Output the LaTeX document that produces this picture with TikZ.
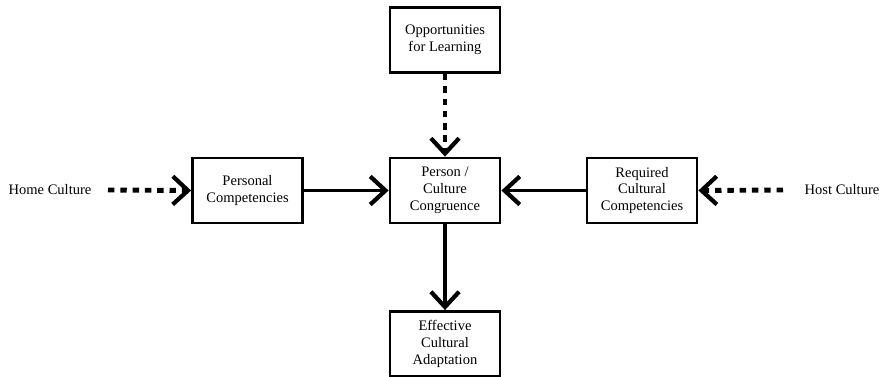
\documentclass[tikz,border=0pt]{standalone}
\usepackage{fontspec}
\setmainfont{Liberation Serif}
\usetikzlibrary{arrows.meta}

\tikzset{
  box/.style={draw, line width=2.4pt, minimum width=3.3cm, minimum height=1.95cm,
    align=center, font=\fontsize{12.4}{14.5}\selectfont, inner sep=2pt},
  lbl/.style={font=\fontsize{12.4}{14.5}\selectfont},
  solidarr/.style={line width=3.4pt, -{Straight Barb[length=13pt,width=24pt,line width=3.6pt]}},
  dotarr/.style={line width=4.2pt, dash pattern=on 5.5pt off 5pt,
    -{Straight Barb[length=13pt,width=24pt,line width=3.6pt]}}
}

\begin{document}
\begin{tikzpicture}[x=0.03cm,y=-0.03cm]
\useasboundingbox (0,0) rectangle (883,377);
\node[box] (learn) at (445,40) {Opportunities\\for Learning};
\node[box] (congr) at (445,190.5) {Person /\\Culture\\Congruence};
\node[box] (pers) at (247.5,190.5) {Personal\\Competencies};
\node[box] (req) at (642,190.5) {Required\\Cultural\\Competencies};
\node[box] (adapt) at (445,344) {Effective\\Cultural\\Adaptation};
\node[lbl] (home) at (50,190) {Home Culture};
\node[lbl] (host) at (842,190) {Host Culture};
\coordinate (hs) at (108,190);
\coordinate (ts) at (783,190);
% arrows
\draw[dotarr] (hs) -- (pers.west);
\draw[dotarr] (ts) -- (req.east);
\draw[dotarr] (learn.south) -- (congr.north);
\draw[solidarr] (pers.east) -- (congr.west);
\draw[solidarr] (req.west) -- (congr.east);
\draw[solidarr] (congr.south) -- (adapt.north);
\end{tikzpicture}
\end{document}
